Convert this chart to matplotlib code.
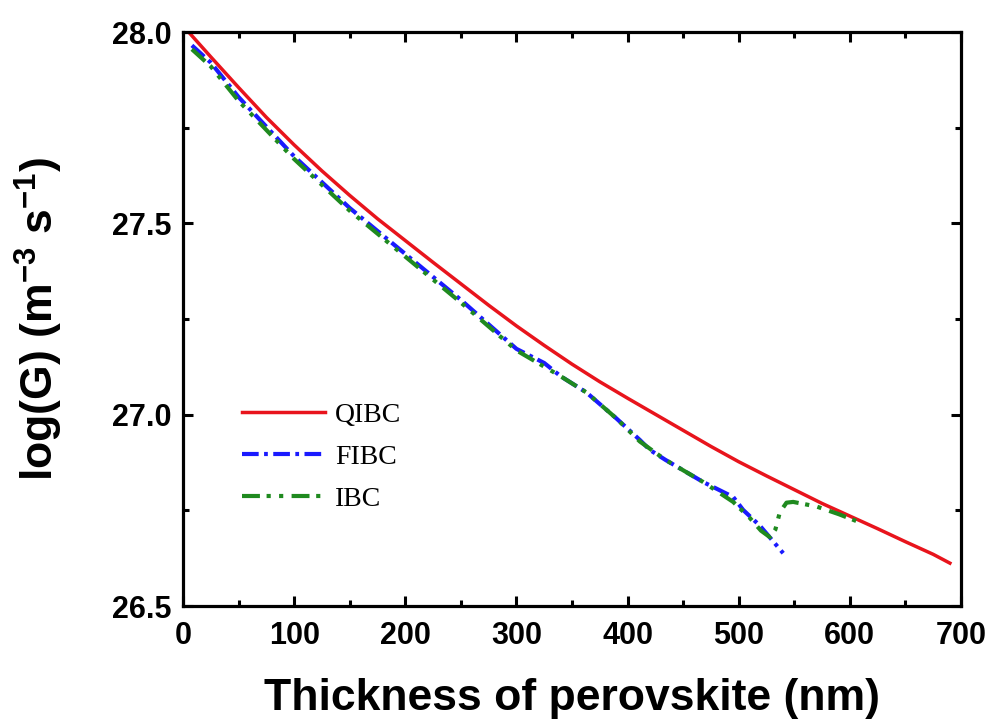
import numpy as np
import matplotlib
matplotlib.use('Agg')
import matplotlib.pyplot as plt
from matplotlib.ticker import MultipleLocator, FormatStrFormatter

# Fonts
plt.rcParams['font.family'] = ['Liberation Sans', 'DejaVu Sans']
plt.rcParams['mathtext.fontset'] = 'custom'
plt.rcParams['mathtext.rm'] = 'Liberation Sans:bold'
plt.rcParams['mathtext.bf'] = 'Liberation Sans:bold'
plt.rcParams['mathtext.default'] = 'bf'

# Data
qibc_x = [5, 25, 50, 75, 100, 125, 150, 175, 200, 225, 250, 275, 300, 325, 350,
          375, 400, 425, 450, 475, 500, 525, 550, 575, 600, 625, 650, 675, 690]
qibc_y = [28.0, 27.935, 27.855, 27.777, 27.705, 27.637, 27.573, 27.512, 27.455,
          27.398, 27.342, 27.286, 27.232, 27.181, 27.132, 27.086, 27.043, 27.001,
          26.959, 26.917, 26.877, 26.840, 26.804, 26.768, 26.735, 26.702, 26.668,
          26.635, 26.612]

fibc_x = [8, 25, 50, 100, 150, 200, 250, 300, 325, 340, 363, 390, 411, 420,
          434, 468, 495, 504, 519, 540]
fibc_y = [27.965, 27.92, 27.83, 27.675, 27.54, 27.42, 27.30, 27.172, 27.135,
          27.10, 27.058, 26.99, 26.934, 26.908, 26.882, 26.824, 26.785, 26.751,
          26.71, 26.638]

ibc_x = [8, 25, 50, 100, 150, 200, 250, 300, 340, 363, 390, 411, 434, 468, 495,
         510, 520, 528, 533, 537, 543, 549, 570, 590, 612]
ibc_y = [27.955, 27.91, 27.82, 27.668, 27.533, 27.413, 27.293, 27.168, 27.10,
         27.058, 26.99, 26.93, 26.882, 26.824, 26.772, 26.73, 26.697, 26.68,
         26.70, 26.745, 26.77, 26.772, 26.76, 26.74, 26.715]

fig = plt.figure(figsize=(9.92, 7.22), dpi=100)
ax = fig.add_axes([183 / 992, 1 - 606 / 722, 778 / 992, 574 / 722])

ax.plot(qibc_x, qibc_y, color='#e8141c', lw=2.5, label='QIBC')
ax.plot(fibc_x, fibc_y, color='#1a1aff', lw=3.0,
        ls=(0, (4.0, 1.3, 0.9, 1.3)), label='FIBC')
ax.plot(ibc_x, ibc_y, color='#1f8a1f', lw=3.0,
        ls=(0, (4.3, 1.6, 1.0, 2.0, 1.0, 2.0)), label='IBC')

ax.set_xlim(0, 700)
ax.set_ylim(26.5, 28.0)
ax.xaxis.set_major_locator(MultipleLocator(100))
ax.xaxis.set_minor_locator(MultipleLocator(50))
ax.yaxis.set_major_locator(MultipleLocator(0.5))
ax.yaxis.set_minor_locator(MultipleLocator(0.25))
ax.yaxis.set_major_formatter(FormatStrFormatter('%.1f'))

ax.tick_params(which='both', direction='in', top=True, right=True, width=2.2)
ax.tick_params(which='major', length=7.5, labelsize=22)
ax.tick_params(which='minor', length=4.5)
ax.tick_params(axis='x', which='major', pad=11)
ax.tick_params(axis='y', which='major', pad=8)
for lbl in ax.get_xticklabels() + ax.get_yticklabels():
    lbl.set_fontweight('bold')
for sp in ax.spines.values():
    sp.set_linewidth(2.3)

ax.set_xlabel('Thickness of perovskite (nm)', fontsize=32, fontweight='bold')
ax.set_ylabel('log(G) (m$^{-3}$ s$^{-1}$)', fontsize=32, fontweight='bold')
ax.xaxis.set_label_coords(0.5, -0.125)
ax.yaxis.set_label_coords(-0.152, 0.5)

ax.legend(loc='upper left', bbox_to_anchor=(0.076, 0.355), frameon=False,
          prop={'family': 'Liberation Serif', 'size': 20},
          handlelength=3.0, handletextpad=0.35, labelspacing=0.6,
          borderpad=0, borderaxespad=0)

fig.savefig('out.png', dpi=100)
